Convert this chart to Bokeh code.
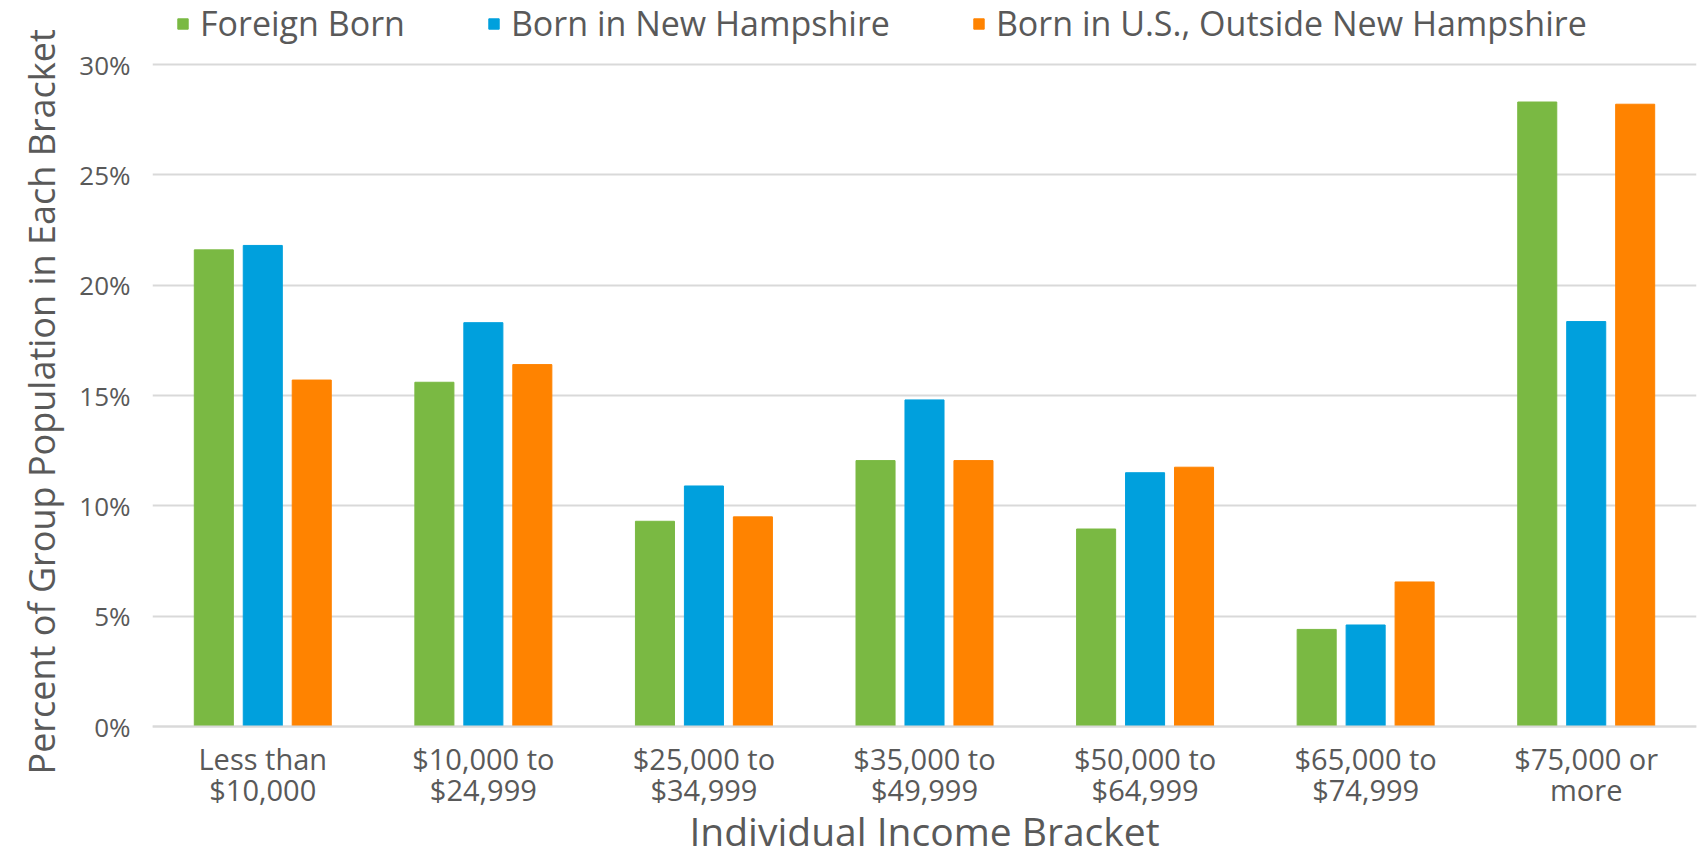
from bokeh.plotting import figure
from bokeh.models import (FactorRange, Range1d, Legend, LegendItem, PrintfTickFormatter,
                          ColumnDataSource, FixedTicker, Title)
from bokeh.transform import dodge
from bokeh.embed import file_html
from bokeh.resources import INLINE

brackets = ["Less than\n$10,000", "$10,000 to\n$24,999", "$25,000 to\n$34,999",
            "$35,000 to\n$49,999", "$50,000 to\n$64,999", "$65,000 to\n$74,999",
            "$75,000 or\nmore"]
foreign_born = [21.6, 15.6, 9.3, 12.05, 8.95, 4.4, 28.3]
born_nh = [21.8, 18.3, 10.9, 14.8, 11.5, 4.6, 18.35]
born_us_outside = [15.7, 16.4, 9.5, 12.05, 11.75, 6.55, 28.2]
series_names = ["Foreign Born", "Born in New Hampshire", "Born in U.S., Outside New Hampshire"]
series_colors = ["#7AB943", "#00A0DD", "#FF8300"]
y_ticks = [0, 5, 10, 15, 20, 25, 30]
x_title = "Individual Income Bracket"
y_title = "Percent of Group Population in Each Bracket"

FONT = "Open Sans"
TXT = "#595959"

src = ColumnDataSource(dict(x=brackets, fb=foreign_born, nh=born_nh, us=born_us_outside))

# layout (pixels): the frame fills the canvas height; 30% line at 64px from top, 0% line at 726px
W, H = 1702, 856
TOP_PX, ZERO_PX = 64, 726
k = (ZERO_PX - TOP_PX) / 30.0
y_start = -(H - ZERO_PX) / k
y_end = ZERO_PX / k

p = figure(width=W, height=H,
           x_range=FactorRange(*brackets, range_padding=0),
           y_range=Range1d(y_start, y_end),
           output_backend="svg", toolbar_location=None,
           min_border_left=152, min_border_right=6, min_border_top=0, min_border_bottom=0)

bw = 0.177
offs = [-0.222, 0.0, 0.222]
renderers = []
for key, off, col in zip(["fb", "nh", "us"], offs, series_colors):
    r = p.vbar(x=dodge("x", off, range=p.x_range), top=key, bottom=0, width=bw, source=src,
               fill_color=col, line_color=col, line_width=1)
    renderers.append(r)

legend = Legend(items=[LegendItem(label=n, renderers=[r]) for n, r in zip(series_names, renderers)],
                orientation="horizontal", location=(24, H - 46),
                border_line_color=None, background_fill_alpha=0,
                label_text_font=FONT, label_text_font_size="34px", label_text_color=TXT,
                glyph_width=13, glyph_height=13, label_standoff=11, spacing=82,
                padding=0, margin=0)
p.add_layout(legend, "center")

p.outline_line_color = None
p.xgrid.grid_line_color = None
p.ygrid.grid_line_color = "#D9D9D9"
p.ygrid.grid_line_width = 2

p.yaxis.ticker = FixedTicker(ticks=y_ticks)
p.yaxis.formatter = PrintfTickFormatter(format="%d%%")
p.yaxis.axis_line_color = None
p.yaxis.major_tick_line_color = None
p.yaxis.minor_tick_line_color = None
p.yaxis.major_tick_out = 0
p.yaxis.minor_tick_out = 0
p.yaxis.major_label_standoff = 22
p.yaxis.major_label_text_font = FONT
p.yaxis.major_label_text_font_size = "26px"
p.yaxis.major_label_text_color = TXT

p.add_layout(Title(text=y_title, align="left", offset=82, standoff=22,
                   text_font=FONT, text_font_size="36px", text_font_style="normal",
                   text_color=TXT), "left")

# x axis drawn at y = 0 inside the (full-height) frame
p.xaxis.fixed_location = 0
p.xaxis.axis_line_color = "#D9D9D9"
p.xaxis.axis_line_width = 2
p.xaxis.major_tick_line_color = None
p.xaxis.minor_tick_line_color = None
p.xaxis.major_tick_out = 0
p.xaxis.minor_tick_out = 0
p.xaxis.major_label_standoff = 12
p.xaxis.major_label_text_font = FONT
p.xaxis.major_label_text_font_size = "29px"
p.xaxis.major_label_text_line_height = 0.8
p.xaxis.major_label_text_color = TXT
p.xaxis.axis_label = x_title
p.xaxis.axis_label_text_font = FONT
p.xaxis.axis_label_text_font_size = "39px"
p.xaxis.axis_label_text_font_style = "normal"
p.xaxis.axis_label_text_color = TXT
p.xaxis.axis_label_standoff = -8

open("out.html", "w").write(file_html(p, INLINE))
